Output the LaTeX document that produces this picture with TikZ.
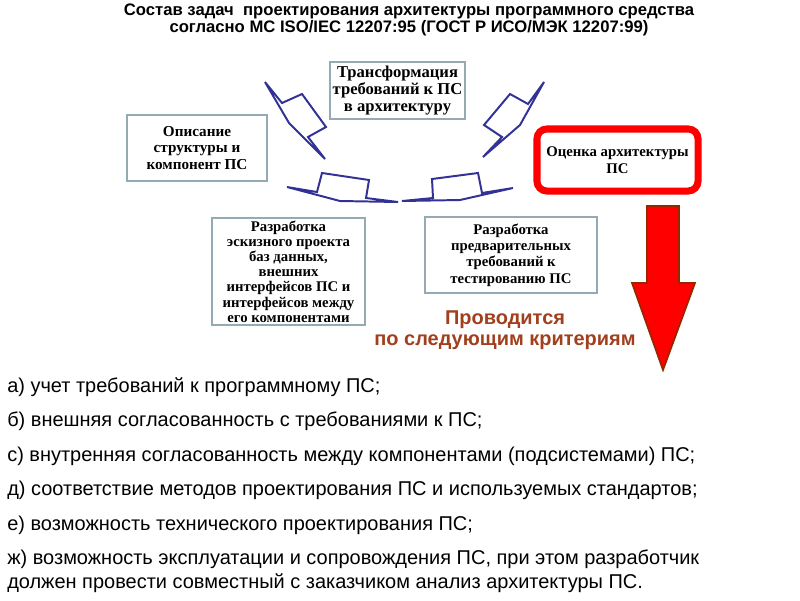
\documentclass[tikz,border=0pt]{standalone}
\usepackage{fontspec}
\setmainfont{Liberation Sans}
\newfontfamily\boxfont{Liberation Serif}
\usetikzlibrary{positioning}
\definecolor{arrowblue}{RGB}{50,50,150}
\definecolor{boxline}{RGB}{150,170,180}
\definecolor{redline}{RGB}{150,40,0}
\definecolor{browntext}{RGB}{160,64,30}

\tikzset{
	taskbox/.style={draw=boxline,line width=1.1pt,fill=white,inner sep=0,align=center,
		font=\boxfont\bfseries\fontsize{10.5}{10.8}\selectfont},
	evalbox/.style={draw=red,line width=5pt,rounded corners=7pt,fill=white,inner sep=0,align=center,
		font=\boxfont\bfseries\fontsize{10.5}{12}\selectfont},
	circarrow/.style={draw=arrowblue,line width=1.4pt,line join=miter},
	crit/.style={anchor=base west,inner sep=0,font=\fontsize{14.2}{17}\selectfont}
}

\begin{document}
\begin{tikzpicture}[x=0.025cm,y=-0.025cm]
	\useasboundingbox (0,0) rectangle (800,600);
	\node[align=center,inner sep=0,font=\bfseries\fontsize{11.85}{12.2}\selectfont] (titel) at (409,20)
		{Состав задач\ \ проектирования архитектуры программного средства\\согласно МС ISO/IEC 12207:95 (ГОСТ Р ИСО/МЭК 12207:99)};

	\node[taskbox,minimum width=3.375cm,minimum height=1.425cm,font=\boxfont\bfseries\fontsize{11.8}{11.9}\selectfont] (trans) at (397.5,90.5)
		{Трансформация\\требований к ПС\\в архитектуру};
	\node[taskbox,minimum width=3.5cm,minimum height=1.65cm,font=\boxfont\bfseries\fontsize{10.8}{11.8}\selectfont] (opis) at (197,148)
		{Описание\\структуры и\\компонент ПС};
	\node[evalbox,minimum width=4.025cm,minimum height=1.55cm] (ocen) at (617.5,160)
		{Оценка архитектуры\\ПС};
	\node[taskbox,minimum width=3.825cm,minimum height=2.675cm] (eskiz) at (288.5,271.5)
		{Разработка\\эскизного проекта\\баз данных,\\внешних\\интерфейсов ПС и\\интерфейсов между\\его компонентами};
	\node[taskbox,minimum width=4.3cm,minimum height=1.9cm,font=\boxfont\bfseries\fontsize{10.5}{11.6}\selectfont] (pred) at (511,255)
		{Разработка\\предварительных\\требований к\\тестированию ПС};

	\draw[circarrow] (265,82) -- (282,103) -- (302,94) -- (326,127) -- (308,137) -- (325,159) -- (289,123) -- cycle;
	\draw[circarrow] (544,82) -- (528,104) -- (510,94) -- (484,125) -- (502,137) -- (483,157) -- (520,125) -- cycle;
	\draw[circarrow] (287,187) -- (317,192) -- (322,173) -- (369,180) -- (366,198) -- (398,202) -- (340,201) -- cycle;
	\draw[circarrow] (513,188) -- (482,193) -- (478,173) -- (432,179) -- (433,198) -- (402,201) -- (460,200) -- cycle;

	\draw[fill=red,draw=redline,line width=1.2pt,line join=miter] (647,206) -- (679,206) -- (679,283) -- (695,283)
		-- (663,370) -- (632,283) -- (647,283) -- cycle;

	\node[align=center,inner sep=0,text=browntext,font=\bfseries\fontsize{14.2}{15}\selectfont] (prov) at (505,330)
		{Проводится\\по следующим критериям};

	\node[crit] (ka) at (7,392) {а) учет требований к программному ПС;};
	\node[crit] (kb) at (7,426.5) {б) внешняя согласованность с требованиями к ПС;};
	\node[crit] (kc) at (7,461) {с) внутренняя согласованность между компонентами (подсистемами) ПС;};
	\node[crit] (kd) at (7,495.5) {д) соответствие методов проектирования ПС и используемых стандартов;};
	\node[crit] (ke) at (7,530) {е) возможность технического проектирования ПС;};
	\node[crit] (kf) at (7,564) {ж) возможность эксплуатации и сопровождения ПС, при этом разработчик};
	\node[crit] (kg) at (7,588) {должен провести совместный с заказчиком анализ архитектуры ПС.};
\end{tikzpicture}
\end{document}
